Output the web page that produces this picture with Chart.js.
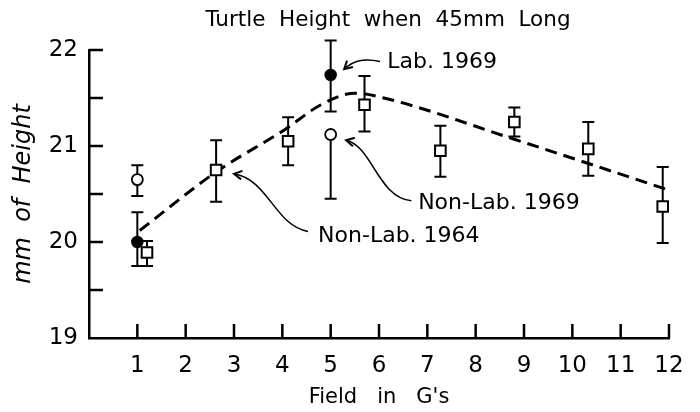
<!DOCTYPE html>
<html>
<head>
<meta charset="utf-8">
<script src="https://cdn.jsdelivr.net/npm/chart.js@4.4.1/dist/chart.umd.min.js"></script>
<style>
  html, body { margin: 0; background: #fff; }
  #wrap { width: 700px; height: 412px; }
</style>
</head>
<body>
<div id="wrap"><canvas id="grafica"></canvas></div>
<script>
// Lab. 1969 (filled circles)
const labX = [1, 5];
const labY = [20.0, 21.74];
const labHi = [20.31, 22.10];
const labLo = [19.75, 21.36];

// Non-Lab. 1969 (open circles)
const nl69X = [1, 5];
const nl69Y = [20.65, 21.12];
const nl69Hi = [20.80, 21.12];
const nl69Lo = [20.48, 20.45];

// Non-Lab. 1964 (open squares)
const nl64X = [1.2, 2.63, 4.12, 5.7, 7.27, 8.8, 10.33, 11.87];
const nl64Y = [19.89, 20.75, 21.05, 21.43, 20.95, 21.25, 20.97, 20.37];
const nl64Hi = [20.01, 21.06, 21.30, 21.73, 21.21, 21.40, 21.25, 20.78];
const nl64Lo = [19.75, 20.42, 20.80, 21.15, 20.68, 21.10, 20.69, 19.99];

// dashed trend curve
const trendX = [1.05, 2.63, 4.05, 4.8, 5.5, 6.1, 8.8, 12];
const trendY = [20.12, 20.73, 21.17, 21.43, 21.55, 21.5, 21.07, 20.54];

const FONT = 'DejaVu Sans';
const TITLE = 'Turtle  Height  when  45mm  Long';

function pts(xs, ys) {
  return xs.map((x, i) => ({ x: x, y: ys[i] }));
}

// error bars drawn from the errHi / errLo arrays
const errorBars = {
  id: 'errorBars',
  beforeDatasetsDraw(chart) {
    const { ctx, scales: { x, y } } = chart;
    ctx.save();
    ctx.strokeStyle = '#000';
    ctx.lineWidth = 2;
    chart.data.datasets.forEach(ds => {
      if (!ds.errHi) return;
      ds.data.forEach((p, i) => {
        const px = x.getPixelForValue(p.x);
        const top = y.getPixelForValue(ds.errHi[i]);
        const bot = y.getPixelForValue(ds.errLo[i]);
        ctx.beginPath();
        ctx.moveTo(px, top);
        ctx.lineTo(px, bot);
        if (ds.errHi[i] > p.y) {
          ctx.moveTo(px - 6, top);
          ctx.lineTo(px + 6, top);
        }
        ctx.moveTo(px - 6, bot);
        ctx.lineTo(px + 6, bot);
        ctx.stroke();
      });
    });
    ctx.restore();
  }
};

// tick marks pointing into the plot
const innerTicks = {
  id: 'innerTicks',
  afterDraw(chart) {
    const { ctx, chartArea: a, scales: { x, y } } = chart;
    ctx.save();
    ctx.strokeStyle = '#000';
    ctx.lineWidth = 2.5;
    ctx.beginPath();
    x.ticks.forEach(t => {
      if (t.value === 0) return;
      const px = x.getPixelForValue(t.value);
      ctx.moveTo(px, a.bottom);
      ctx.lineTo(px, a.bottom - 14);
    });
    y.ticks.forEach(t => {
      if (t.value === 19) return;
      const py = y.getPixelForValue(t.value);
      ctx.moveTo(a.left, py);
      ctx.lineTo(a.left + 14, py);
    });
    ctx.stroke();
    ctx.restore();
  }
};

// labels with curved arrows, placed in data units
const notes = [
  { text: 'Lab. 1969', at: [6.17, 21.87],
    path: [[6.02, 21.88], [5.65, 21.92], [5.45, 21.88], [5.28, 21.80]] },
  { text: 'Non-Lab. 1969', at: [6.81, 20.40],
    path: [[6.67, 20.43], [5.98, 20.46], [5.86, 21.0], [5.32, 21.06]] },
  { text: 'Non-Lab. 1964', at: [4.74, 20.06],
    path: [[4.53, 20.11], [3.85, 20.17], [3.71, 20.65], [3.0, 20.71]] }
];

const annotations = {
  id: 'annotations',
  afterDraw(chart) {
    const { ctx, chartArea: a, scales: { x, y } } = chart;
    ctx.save();
    ctx.fillStyle = '#000';
    ctx.strokeStyle = '#000';
    // title, a little right of the plot centre as in the original
    ctx.font = '21.5px "' + FONT + '"';
    ctx.textAlign = 'center';
    ctx.textBaseline = 'middle';
    ctx.fillText(TITLE, (a.left + a.right) / 2 + 9, 20);

    ctx.font = '22px "' + FONT + '"';
    ctx.textAlign = 'left';
    notes.forEach(n => {
      ctx.fillText(n.text, x.getPixelForValue(n.at[0]), y.getPixelForValue(n.at[1]));
      const p = n.path.map(q => [x.getPixelForValue(q[0]), y.getPixelForValue(q[1])]);
      ctx.lineWidth = 1.5;
      ctx.beginPath();
      ctx.moveTo(p[0][0], p[0][1]);
      ctx.bezierCurveTo(p[1][0], p[1][1], p[2][0], p[2][1], p[3][0], p[3][1]);
      ctx.stroke();
      const ang = Math.atan2(p[3][1] - p[2][1], p[3][0] - p[2][0]);
      ctx.lineWidth = 2;
      ctx.beginPath();
      ctx.moveTo(p[3][0] - 9 * Math.cos(ang - 0.5), p[3][1] - 9 * Math.sin(ang - 0.5));
      ctx.lineTo(p[3][0], p[3][1]);
      ctx.lineTo(p[3][0] - 9 * Math.cos(ang + 0.5), p[3][1] - 9 * Math.sin(ang + 0.5));
      ctx.stroke();
    });
    ctx.restore();
  }
};

const ctx = document.getElementById('grafica').getContext('2d');

new Chart(ctx, {
  type: 'scatter',
  data: {
    datasets: [
      {
        label: 'Lab. 1969',
        data: pts(labX, labY),
        errHi: labHi,
        errLo: labLo,
        pointStyle: 'circle',
        pointRadius: 5.5,
        pointBackgroundColor: '#000',
        pointBorderColor: '#000',
        pointBorderWidth: 1.5,
        order: 1,
      },
      {
        label: 'Non-Lab. 1969',
        data: pts(nl69X, nl69Y),
        errHi: nl69Hi,
        errLo: nl69Lo,
        pointStyle: 'circle',
        pointRadius: 5.5,
        pointBackgroundColor: '#fff',
        pointBorderColor: '#000',
        pointBorderWidth: 1.8,
        order: 1,
      },
      {
        label: 'Non-Lab. 1964',
        data: pts(nl64X, nl64Y),
        errHi: nl64Hi,
        errLo: nl64Lo,
        pointStyle: 'rect',
        pointRadius: 7.5,
        pointBackgroundColor: '#fff',
        pointBorderColor: '#000',
        pointBorderWidth: 2,
        order: 1,
      },
      {
        label: 'trend',
        data: pts(trendX, trendY),
        showLine: true,
        borderColor: '#000',
        borderWidth: 3,
        borderDash: [12, 7],
        cubicInterpolationMode: 'monotone',
        pointRadius: 0,
        order: 2,
      },
    ],
  },
  options: {
    responsive: true,
    maintainAspectRatio: false,
    animation: false,
    layout: { padding: { left: 0, right: 31, top: 50, bottom: 0 } },
    plugins: {
      legend: { display: false },
      tooltip: { enabled: false },
      title: { display: false },
    },
    scales: {
      x: {
        type: 'linear',
        min: 0,
        max: 12,
        afterFit(s) { s.height = 74; },
        grid: { display: false, drawTicks: false },
        border: { display: true, color: '#000', width: 2.5 },
        ticks: {
          stepSize: 1,
          autoSkip: false,
          padding: 14,
          color: '#000',
          font: { family: FONT, size: 23 },
          callback: v => (v === 0 ? '' : v),
        },
        title: {
          display: true,
          text: 'Field   in   G\'s',
          color: '#000',
          font: { family: FONT, size: 21 },
          padding: { top: 0, bottom: 2 },
        },
      },
      y: {
        min: 19,
        max: 22,
        afterFit(s) { s.width = 89; },
        grid: { display: false, drawTicks: false },
        border: { display: true, color: '#000', width: 2.5 },
        ticks: {
          stepSize: 0.5,
          autoSkip: false,
          padding: 11,
          color: '#000',
          font: { family: FONT, size: 23 },
          callback: v => (Number.isInteger(v) ? v : ''),
        },
        title: {
          display: true,
          text: 'mm  of  Height',
          color: '#000',
          font: { family: FONT, size: 24, style: 'italic' },
          padding: { top: 9, bottom: 0 },
        },
      },
    },
  },
  plugins: [errorBars, innerTicks, annotations],
});
</script>
</body>
</html>
